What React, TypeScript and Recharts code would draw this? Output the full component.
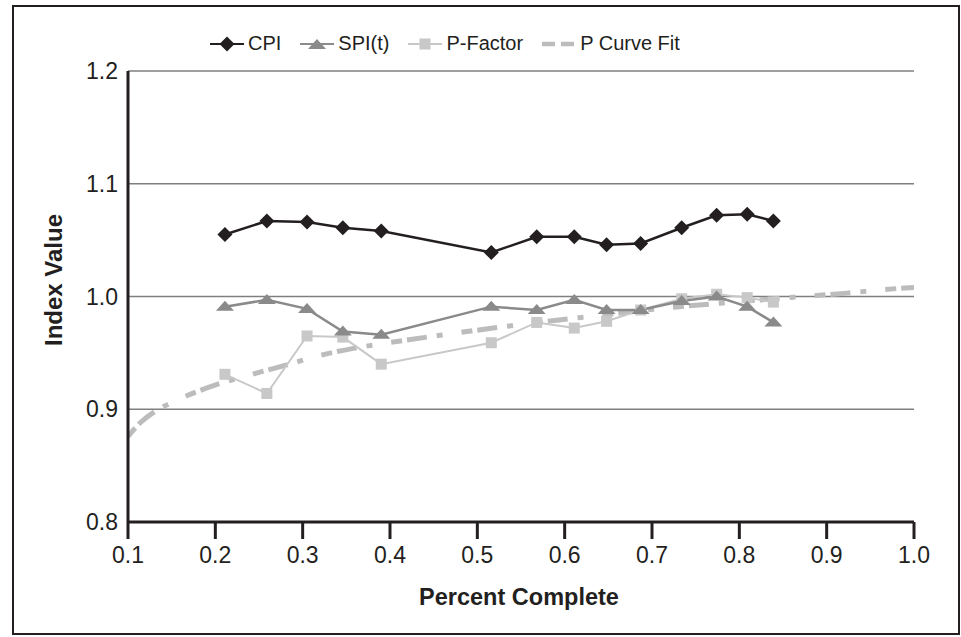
import { LineChart, Line, XAxis, YAxis, CartesianGrid, Legend } from 'recharts';

const percentComplete = [0.211, 0.259, 0.305, 0.346, 0.39, 0.516, 0.568, 0.611, 0.648, 0.687, 0.734, 0.774, 0.809, 0.839];
const cpi = [1.055, 1.067, 1.066, 1.061, 1.058, 1.039, 1.053, 1.053, 1.046, 1.047, 1.061, 1.072, 1.073, 1.067];
const spiT = [0.991, 0.997, 0.989, 0.969, 0.966, 0.991, 0.988, 0.997, 0.988, 0.988, 0.996, 1.0, 0.991, 0.977];
const pFactor = [0.931, 0.914, 0.965, 0.964, 0.94, 0.959, 0.977, 0.972, 0.978, 0.988, 0.998, 1.002, 0.999, 0.995];

const fitX = [0.1, 0.114, 0.133, 0.156, 0.202, 0.247, 0.289, 0.316, 0.358, 0.39, 0.461, 0.518, 0.625, 0.732, 0.793, 0.873, 0.923, 0.98, 1.0];
const fitY = [0.876, 0.888, 0.899, 0.908, 0.922, 0.932, 0.941, 0.947, 0.954, 0.958, 0.966, 0.972, 0.982, 0.991, 0.995, 1.0, 1.003, 1.007, 1.008];

const xTicks = [0.1, 0.2, 0.3, 0.4, 0.5, 0.6, 0.7, 0.8, 0.9, 1.0];
const yTicks = [0.8, 0.9, 1.0, 1.1, 1.2];

const rows = percentComplete.map((x, i) => ({ x, cpi: cpi[i], spi: spiT[i], pf: pFactor[i] }));
const fitRows = fitX.map((x, i) => ({ x, fit: fitY[i] }));

const FONT = '"Liberation Sans", Arial, Helvetica, sans-serif';
const INK = '#231f20';
const SPI_GRAY = '#8a8a8a';
const PF_GRAY = '#c8c8c8';
const FIT_GRAY = '#bcbcbd';
const FIT_DASH = '11 5 20 10 6 19';

const Diamond = (props: any) => {
  const { cx, cy, index } = props;
  if (cx == null || cy == null) return null;
  const r = 7.5;
  return <path key={index} d={`M${cx},${cy - r}L${cx + r},${cy}L${cx},${cy + r}L${cx - r},${cy}Z`} fill={INK} />;
};

const Triangle = (props: any) => {
  const { cx, cy, index } = props;
  if (cx == null || cy == null) return null;
  return <path key={index} d={`M${cx},${cy - 6}L${cx + 9},${cy + 4}L${cx - 9},${cy + 4}Z`} fill={SPI_GRAY} />;
};

const Square = (props: any) => {
  const { cx, cy, index } = props;
  if (cx == null || cy == null) return null;
  return <rect key={index} x={cx - 5.5} y={cy - 5.5} width={11} height={11} fill={PF_GRAY} />;
};

const legendItems = [
  { name: 'CPI', color: INK, marker: 'diamond' },
  { name: 'SPI(t)', color: SPI_GRAY, marker: 'triangle' },
  { name: 'P-Factor', color: PF_GRAY, marker: 'square' },
  { name: 'P Curve Fit', color: FIT_GRAY, marker: 'dash' },
];

function renderLegend() {
  return (
    <div style={{ display: 'flex', alignItems: 'center', gap: 19, fontFamily: FONT, fontSize: 20, color: INK }}>
      {legendItems.map((it) => (
        <div key={it.name} style={{ display: 'flex', alignItems: 'center', gap: 4 }}>
          <svg width={34} height={20}>
            {it.marker === 'dash' ? (
              <line x1={0} y1={10} x2={34} y2={10} stroke={it.color} strokeWidth={4.5} strokeDasharray="13 6" />
            ) : (
              <line x1={0} y1={10} x2={34} y2={10} stroke={it.color} strokeWidth={2} />
            )}
            {it.marker === 'diamond' && <Diamond cx={17} cy={10} />}
            {it.marker === 'triangle' && <Triangle cx={17} cy={11} />}
            {it.marker === 'square' && <Square cx={17} cy={10} />}
          </svg>
          <span>{it.name}</span>
        </div>
      ))}
    </div>
  );
}

export default function App() {
  return (
    <div style={{ position: 'absolute', left: 0, top: 0, width: 961, height: 637, background: '#fff', fontFamily: FONT }}>
      <div
        style={{
          position: 'absolute',
          left: 12,
          top: 5,
          width: 948,
          height: 630,
          boxSizing: 'border-box',
          border: `2px solid ${INK}`,
        }}
      />
      <div style={{ position: 'absolute', left: 0, top: 0 }}>
        <LineChart width={961} height={637} data={rows} margin={{ top: 71, right: 47, bottom: 55, left: 68 }}>
          <CartesianGrid horizontal vertical={false} stroke="#7f7f7f" strokeWidth={1.5} />
          <XAxis
            dataKey="x"
            type="number"
            domain={[0.1, 1.0]}
            ticks={xTicks}
            tickFormatter={(v: number) => v.toFixed(1)}
            allowDataOverflow
            height={60}
            axisLine={{ stroke: INK, strokeWidth: 3 }}
            tickLine={{ stroke: INK, strokeWidth: 3 }}
            tickSize={17}
            tickMargin={8}
            tick={{ fill: INK, fontSize: 23, fontFamily: FONT }}
            label={{
              content: (p: any) => (
                <text
                  x={p.viewBox.x + p.viewBox.width / 2 - 2}
                  y={605}
                  textAnchor="middle"
                  fill={INK}
                  fontSize={23.5}
                  fontWeight="bold"
                  fontFamily={FONT}
                >
                  Percent Complete
                </text>
              ),
            }}
          />
          <YAxis
            type="number"
            domain={[0.8, 1.2]}
            ticks={yTicks}
            tickFormatter={(v: number) => v.toFixed(1)}
            width={60}
            axisLine={{ stroke: INK, strokeWidth: 3 }}
            tickLine={false}
            tickSize={0}
            tickMargin={10}
            tick={{ fill: INK, fontSize: 23, fontFamily: FONT }}
            label={{
              content: () => (
                <text
                  x={0}
                  y={0}
                  transform="translate(62 280) rotate(-90)"
                  textAnchor="middle"
                  fill={INK}
                  fontSize={24}
                  fontWeight="bold"
                  fontFamily={FONT}
                >
                  Index Value
                </text>
              ),
            }}
          />
          <Legend
            layout="horizontal"
            verticalAlign="middle"
            align="center"
            content={renderLegend}
            wrapperStyle={{ position: 'absolute', top: 32, left: 210, width: 'auto' }}
          />
          <Line
            data={fitRows}
            dataKey="fit"
            type="monotone"
            stroke={FIT_GRAY}
            strokeWidth={5}
            strokeDasharray={FIT_DASH}
            dot={false}
            activeDot={false}
            isAnimationActive={false}
          />
          <Line
            dataKey="pf"
            type="linear"
            stroke={PF_GRAY}
            strokeWidth={2}
            dot={Square}
            activeDot={false}
            isAnimationActive={false}
          />
          <Line
            dataKey="spi"
            type="linear"
            stroke={SPI_GRAY}
            strokeWidth={2.5}
            dot={Triangle}
            activeDot={false}
            isAnimationActive={false}
          />
          <Line
            dataKey="cpi"
            type="linear"
            stroke={INK}
            strokeWidth={2.5}
            dot={Diamond}
            activeDot={false}
            isAnimationActive={false}
          />
        </LineChart>
      </div>
    </div>
  );
}
